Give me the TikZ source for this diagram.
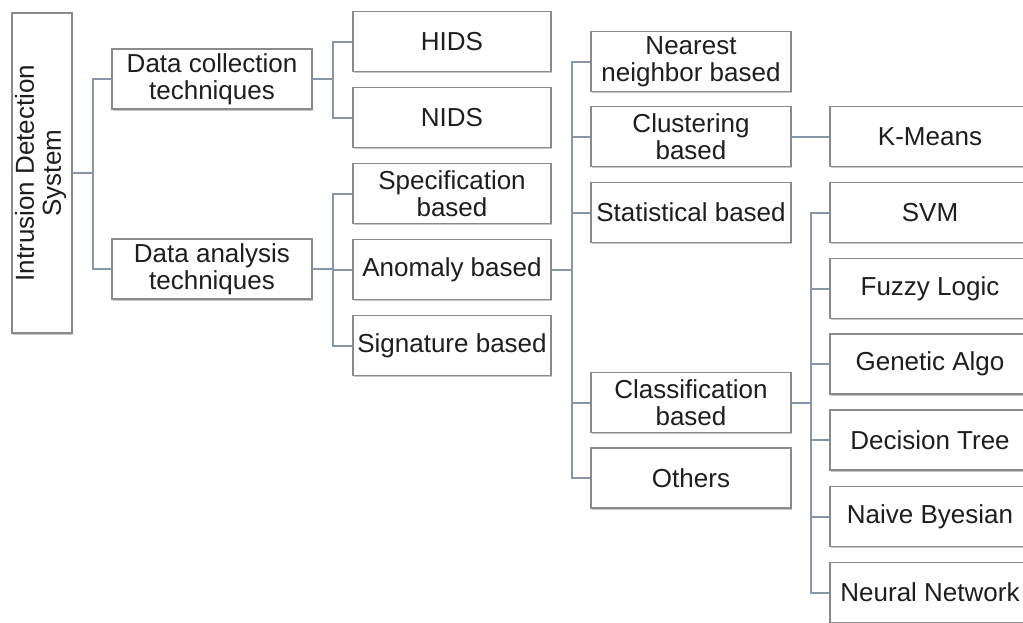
\documentclass[tikz,border=0pt]{standalone}
\usepackage{fontspec}
\usepackage{graphicx}
\setmainfont{Liberation Sans}
\usetikzlibrary{shadows}
\definecolor{boxline}{HTML}{8A8A8A}
\definecolor{wirecol}{HTML}{8796AA}
\definecolor{ink}{HTML}{1E1E1E}

\begin{document}
\begin{tikzpicture}[x=1pt,y=-1pt,
  box/.style={draw=boxline, line width=1.3pt, fill=white,
    minimum width=200pt, minimum height=60pt, inner sep=1pt,
    align=center, text=ink, font=\fontsize{26}{27}\selectfont,
    drop shadow={shadow xshift=0.6pt, shadow yshift=-1.8pt, opacity=0.45, fill=gray}},
  wire/.style={draw=wirecol, line width=2pt}]

\useasboundingbox (0,0) rectangle (1023,622);

% root
\node[box, minimum width=60pt, minimum height=320pt] (root) at (42,173)
  {\rotatebox{90}{\begin{tabular}{@{}c@{}}Intrusion Detection\\System\end{tabular}}};

% first level
\node[box] (dc) at (212,79)  {Data collection\\techniques};
\node[box] (da) at (212,269) {Data analysis\\techniques};

% second level
\node[box, minimum width=198pt] (hids) at (452,41.5)  {HIDS};
\node[box, minimum width=198pt] (nids) at (452,117.5) {NIDS};
\node[box, minimum width=198pt] (spec) at (452,193.5) {Specification\\based};
\node[box, minimum width=198pt] (anom) at (452,269.5) {Anomaly based};
\node[box, minimum width=198pt] (sig)  at (452,345.5) {Signature based};

% anomaly techniques
\node[box] (nn)    at (691,61.5)  {Nearest\\neighbor based};
\node[box] (clus)  at (691,136.5) {Clustering\\based};
\node[box] (stat)  at (691,212.5) {Statistical based};
\node[box] (class) at (691,402.5) {Classification\\based};
\node[box] (oth)   at (691,478)   {Others};

% algorithms
\node[box] (km)    at (930,136.5) {K-Means};
\node[box] (svm)   at (930,212.5) {SVM};
\node[box] (fuzzy) at (930,288.5) {Fuzzy Logic};
\node[box] (gen)   at (930,364)   {Genetic Algo};
\node[box] (dt)    at (930,440)   {Decision Tree};
\node[box] (nb)    at (930,516.5) {Naive Byesian};
\node[box] (nnet)  at (930,592.5) {Neural Network};

% connectors
\draw[wire] (root.east) -- ++(20,0) |- (dc.west);
\draw[wire] (root.east) ++(20,0) |- (da.west);

\draw[wire] (dc.east) -- ++(20,0) |- (hids.west);
\draw[wire] (dc.east) ++(20,0) |- (nids.west);

\draw[wire] (da.east) -- ++(20,0) |- (anom.west);
\draw[wire] (da.east) ++(20,0) |- (spec.west);
\draw[wire] (da.east) ++(20,0) |- (sig.west);

\draw[wire] (anom.east) -- ++(20,0) |- (stat.west);
\foreach \t in {nn,clus,class,oth}
  \draw[wire] (anom.east) ++(20,0) |- (\t.west);

\draw[wire] (clus.east) -- (km.west);

\draw[wire] (class.east) -- ++(19,0) |- (gen.west);
\foreach \t in {svm,fuzzy,dt,nb,nnet}
  \draw[wire] (class.east) ++(19,0) |- (\t.west);

\end{tikzpicture}
\end{document}
